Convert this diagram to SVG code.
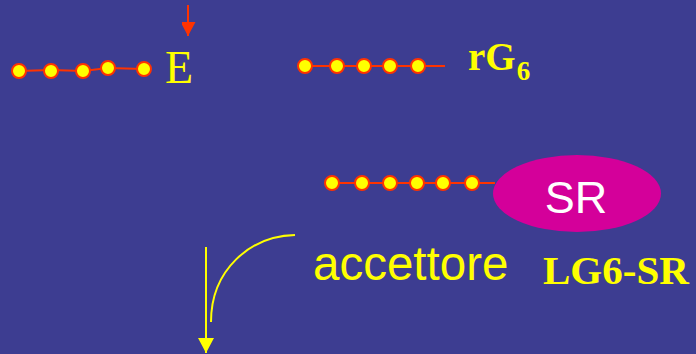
<svg xmlns="http://www.w3.org/2000/svg" width="696" height="354" viewBox="0 0 696 354">
  <style>
    .bead { fill: #FFFF00; stroke: #FF3300; stroke-width: 2; }
    .chain { fill: none; stroke: #FF3300; stroke-width: 2; }
    .ylw { fill: none; stroke: #FFFF00; stroke-width: 2; }
    .serifB { font-family: "Liberation Serif", "Times New Roman", serif; font-weight: bold; fill: #FFFF00; }
    .sans { font-family: "Liberation Sans", Arial, sans-serif; }
  </style>
  <defs>
    <marker id="redHead" markerWidth="15" markerHeight="14" refX="14" refY="7.5" orient="auto" markerUnits="userSpaceOnUse">
      <path d="M0,0 L14,7.5 L0,15 Z" fill="#FF3300"/>
    </marker>
    <marker id="yelHead" markerWidth="15" markerHeight="16" refX="15" refY="8" orient="auto" markerUnits="userSpaceOnUse">
      <path d="M0,0 L15,8 L0,16 Z" fill="#FFFF00"/>
    </marker>
  </defs>
  <rect width="696" height="354" fill="#3D3D91"/>

  <!-- chain E -->
  <g id="chainE">
    <polyline class="chain" points="19,71 51,70 83,71 108,68 144,69"/>
    <circle class="bead" cx="19" cy="71" r="7"/>
    <circle class="bead" cx="51" cy="71" r="7"/>
    <circle class="bead" cx="83" cy="71" r="7"/>
    <circle class="bead" cx="108" cy="68" r="7"/>
    <circle class="bead" cx="144" cy="69" r="7"/>
  </g>
  <g id="labelE">
    <text x="165" y="83" font-family="Liberation Serif, Times New Roman, serif" font-size="46" fill="#FFFF00">E</text>
  </g>

  <!-- chain rG6 -->
  <g id="chainRG6">
    <line class="chain" x1="305" y1="66" x2="445" y2="66"/>
    <circle class="bead" cx="305" cy="66" r="7"/>
    <circle class="bead" cx="337" cy="66" r="7"/>
    <circle class="bead" cx="364" cy="66" r="7"/>
    <circle class="bead" cx="390" cy="66" r="7"/>
    <circle class="bead" cx="418" cy="66" r="7"/>
  </g>
  <g id="labelRG6">
    <text class="serifB" x="468" y="70" font-size="39">rG<tspan font-size="27" dx="1" dy="10">6</tspan></text>
  </g>

  <!-- chain with SR -->
  <g id="chainLG6">
    <line class="chain" x1="332" y1="183" x2="495" y2="183"/>
    <circle class="bead" cx="332" cy="183" r="7"/>
    <circle class="bead" cx="362" cy="183" r="7"/>
    <circle class="bead" cx="390" cy="183" r="7"/>
    <circle class="bead" cx="417" cy="183" r="7"/>
    <circle class="bead" cx="443" cy="183" r="7"/>
    <circle class="bead" cx="472" cy="183" r="7"/>
  </g>
  <g id="nodeSR">
    <ellipse cx="577" cy="193.5" rx="84" ry="38.5" fill="#D4009A"/>
    <text class="sans" x="576" y="213" font-size="45" fill="#FFFFFF" text-anchor="middle">SR</text>
  </g>

  <g id="labelAccettore">
    <text class="sans" x="313" y="280" font-size="47.5" fill="#FFFF00">accettore</text>
  </g>
  <g id="labelLG6SR">
    <text class="serifB" x="543" y="284" font-size="41">LG6-SR</text>
  </g>

  <!-- connectors -->
  <g id="connectors">
    <line x1="188" y1="5" x2="188" y2="36" stroke="#FF3300" stroke-width="2" marker-end="url(#redHead)"/>
    <path class="ylw" d="M295,235 C250,236 211,270 211,322"/>
    <line x1="206" y1="247" x2="206" y2="353" stroke="#FFFF00" stroke-width="2" marker-end="url(#yelHead)"/>
  </g>
</svg>
